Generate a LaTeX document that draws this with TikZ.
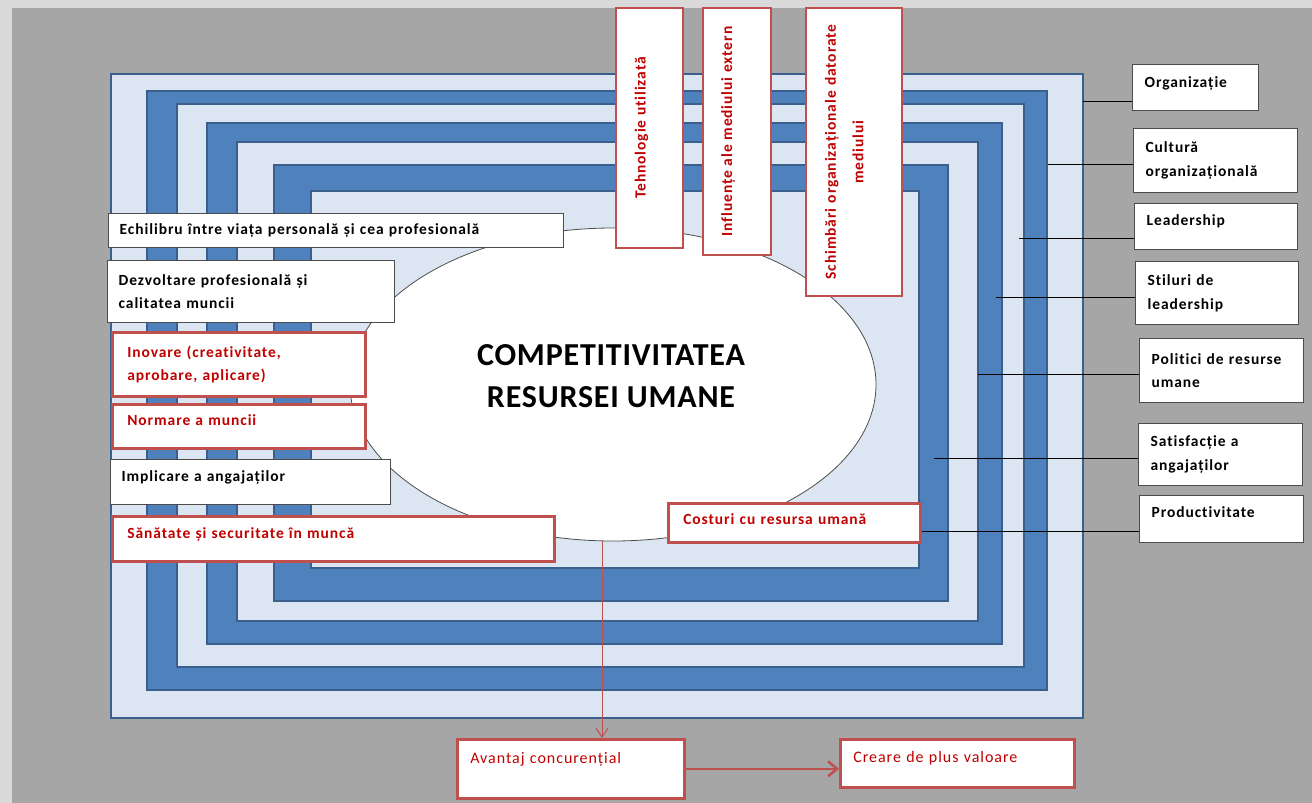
\documentclass[tikz,border=0pt]{standalone}
\usepackage{fontspec}
\setmainfont{Carlito}[LetterSpace=6, Ligatures=NoCommon]
\newfontfamily\titlefamily{Carlito}[LetterSpace=2.5, Ligatures=NoCommon]
\usetikzlibrary{positioning, arrows.meta, shapes.geometric, calc}

\definecolor{bggray}{HTML}{A6A6A6}
\definecolor{edgegray}{HTML}{DADADA}
\definecolor{paleblue}{HTML}{DCE6F2}
\definecolor{midblue}{HTML}{4F81BD}
\definecolor{darkblue}{HTML}{3A5F8C}
\definecolor{boxred}{HTML}{C0504D}
\definecolor{textred}{HTML}{C00000}

\newcommand{\labelfont}{\bfseries\fontsize{15.5}{23.5}\selectfont}

\tikzset{
  band/.style={draw=darkblue, line width=1.6pt},
  core/.style={ellipse, draw=black!70, fill=white, line width=0.8pt},
  plainbox/.style={anchor=north west, draw=black!70, fill=white, line width=1.2pt,
    font=\labelfont, align=left, inner xsep=11pt, inner ysep=0pt},
  redbox/.style={plainbox, draw=boxred, line width=2.6pt, text=textred, inner xsep=15pt},
  sidebox/.style={plainbox, inner xsep=12pt},
  upbox/.style={redbox, rotate=90, anchor=center, align=center, inner xsep=0pt},
  single/.style={text height=10pt, text depth=#1},
  single/.default=11pt,
  link/.style={draw=black, line width=0.9pt},
  flow/.style={draw=boxred, line width=1pt, -{Straight Barb[length=9pt, width=12pt]}},
  bigflow/.style={flow, line width=2.5pt, -{Straight Barb[length=9pt, width=15pt]}},
}

\begin{document}
\begin{tikzpicture}[x=1pt, y=-1pt]
% canvas
\fill[edgegray] (0,0) rectangle (1312,803);
\fill[bggray] (12,8) rectangle (1312,803);

% nested frames, outside in
\foreach \xa/\ya/\xb/\yb/\col in {111/74/1083/718/paleblue, 147/91/1047/690/midblue,
    177/104/1024/667/paleblue, 207/123/1002/644/midblue, 237/142/978/621/paleblue,
    274/165/948/601/midblue, 311/191/919/568/paleblue}
  \draw[band, fill=\col] (\xa,\ya) rectangle (\xb,\yb);

% centre
\node[core, minimum width=526, minimum height=313] (core) at (613,384.5) {};
\node[font=\titlefamily\bfseries\fontsize{32}{42}\selectfont, align=center] (title) at (611,376)
  {COMPETITIVITATEA\\RESURSEI UMANE};

% factors on the left
\node[plainbox, single=3pt, minimum width=455, minimum height=34, text width=433] (echilibru) at (108,213)
  {Echilibru între viața personală și cea profesională};
\node[plainbox, minimum width=287, minimum height=62, text width=265] (dezvoltare) at (107,260)
  {Dezvoltare profesională și\\calitatea muncii};
\node[redbox, minimum width=253, minimum height=64, text width=223] (inovare) at (111,331)
  {Inovare (creativitate,\\aprobare, aplicare)};
\node[redbox, single, minimum width=253, minimum height=44, text width=223] (normare) at (111,403)
  {Normare a muncii};
\node[plainbox, single, minimum width=280, minimum height=45, text width=258] (implicare) at (110,459)
  {Implicare a angajaților};
\node[redbox, single=10pt, minimum width=442, minimum height=45, text width=412] (sanatate) at (111,515)
  {Sănătate și securitate în muncă};
\node[redbox, single=6pt, minimum width=252, minimum height=39, text width=222] (costuri) at (667,502)
  {Costuri cu resursa umană};

% factors on top
\node[upbox, single=18pt, minimum width=240, minimum height=67] (tehnologie) at (649.5,128)
  {Tehnologie utilizată};
\node[upbox, single=20pt, minimum width=247, minimum height=68] (influente) at (737,131.5)
  {Influențe ale mediului extern};
\node[upbox, text height=10pt, text depth=46.5pt, text width=280, minimum width=288, minimum height=96,
  font=\bfseries\fontsize{15.5}{27.5}\selectfont] (schimbari) at (854,152)
  {Schimbări organizaționale datorate\\mediului};

% levels on the right
\node[sidebox, single, minimum width=126, minimum height=46, text width=102] (organizatie) at (1132,64)
  {Organizație};
\node[sidebox, minimum width=164, minimum height=64, text width=140] (cultura) at (1133,128)
  {Cultură\\organizațională};
\node[sidebox, single=13pt, minimum width=163, minimum height=46, text width=139] (leadership) at (1134,203)
  {Leadership};
\node[sidebox, minimum width=163, minimum height=63, text width=139] (stiluri) at (1135,261)
  {Stiluri de\\leadership};
\node[sidebox, minimum width=164, minimum height=64, text width=140] (politici) at (1139,338)
  {Politici de resurse\\umane};
\node[sidebox, minimum width=164, minimum height=62, text width=140] (satisfactie) at (1138,423)
  {Satisfacție a\\angajaților};
\node[sidebox, single=13pt, minimum width=164, minimum height=47, text width=140] (productivitate) at (1139,495)
  {Productivitate};

% results
\node[redbox, single=21pt, font=\fontsize{16}{23.5}\selectfont, inner xsep=13pt,
  minimum width=227, minimum height=59, text width=201] (avantaj) at (456,738)
  {Avantaj concurențial};
\node[redbox, single, font=\fontsize{16}{23.5}\selectfont, inner xsep=13pt,
  minimum width=234, minimum height=48, text width=208] (creare) at (839,738)
  {Creare de plus valoare};

% leaders into the frames
\foreach \name/\x/\y in {organizatie/1083/101, cultura/1048/164, leadership/1019/238,
    stiluri/996/297, politici/978/374, satisfactie/934/458}
{
  \coordinate (\name-end) at (\x,\y);
  \draw[link] (\name-end -| \name.west) -- (\name-end);
}
\draw[link] (productivitate.west |- 0,531) -- (costuri.east |- 0,531);

% outcome chain
\draw[flow] (core.-94) -- (core.-94 |- avantaj.north);
\draw[bigflow] (avantaj.east) -- (avantaj.east -| creare.west);
\end{tikzpicture}
\end{document}
